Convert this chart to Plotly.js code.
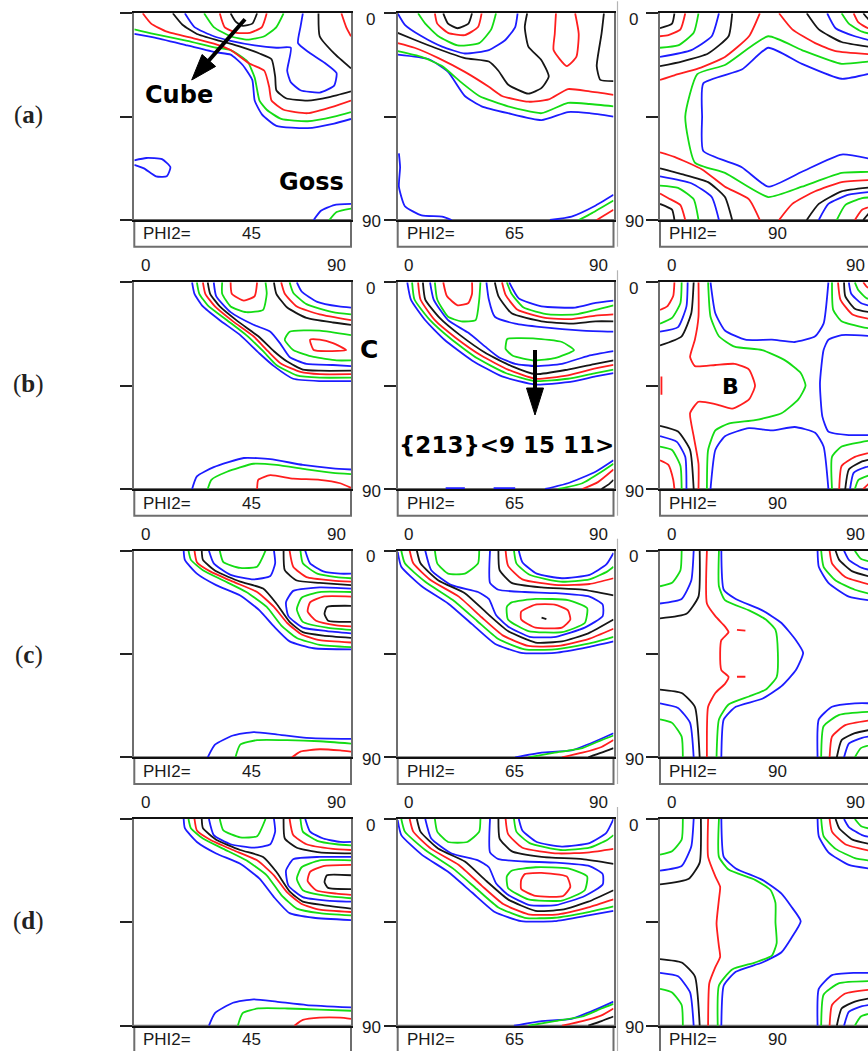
<!DOCTYPE html>
<html><head><meta charset="utf-8">
<script src="https://cdn.plot.ly/plotly-3.0.1.min.js"></script>
<style>html,body{margin:0;padding:0;overflow:hidden;background:#fff}</style>
</head><body><div id="chart"></div>
<script>
// ---------- categories / labels ----------
const ROW_LABELS = ['a', 'b', 'c', 'd'];
const PHI2 = [45, 65, 90];
const EDGE_TICKS = ['0', '90'];

// ---------- contour lines, [phi1, Phi, phi1, Phi, ...] in degrees ----------
// Row (a)
const A45_blue = [
 [0,9, 8,10.5, 22,14, 34,17, 40,18, 45,22.5, 49,29, 50,38, 53,44, 59,49, 72,50, 83,48, 90,46],
 [21,0, 25,6, 33,10, 40,12, 50,14, 59,15, 65,15, 63.5,25, 65,30, 69,33.5, 77,34.5, 83,31.5, 84,26, 79,21.5, 72.5,17, 68,13, 69,6, 70,0],
 [0,64, 5,63, 11.5,63.5, 15,67, 13.5,71, 9,71, 4,67.5, 0,66],
 [74.5,90, 77.5,86, 83,83.5, 90,83]];
const A45_green = [
 [0,7, 8,9, 22,12, 34,15, 40,16, 47,21, 50,28, 52,38, 55,42, 61,46, 72,47, 83,45, 90,43],
 [29,0, 33,6, 40,10, 47,11.5, 54,10, 59,6, 62,0],
 [81,90, 84,86.5, 90,85]];
const A45_red = [
 [3.5,0, 7,4.5, 13.5,8, 25,11, 34,13.5, 40,16, 48,22, 54,25, 56,32, 57,38, 62,42, 72,43.5, 83,40.5, 90,38],
 [35.5,0, 37.5,6, 42.5,8.5, 48,8.5, 53,6, 55,0],
 [86,0, 88,6, 90,10]];
const A45_black = [
 [40,0, 42,3.5, 45,5.5, 49,4.5, 51,0],
 [16,0, 20,5, 26,9, 35.5,12, 44,14.5, 52,17.5, 57,20, 58.5,27.5, 59,33.5, 63,37, 72,38, 81,36.5, 90,34],
 [76.5,0, 77,10, 83,17.5, 90,24]];

const A65_blue = [
 [0,0, 3,5, 10,10, 18.5,14.5, 28,17.5, 38,16, 45,11.5, 49,6, 50,0],
 [0,18, 13,20, 21,25.5, 28,36, 35,40.5, 46,43.5, 60,46.5, 71,43, 80,43.5, 90,45],
 [0.5,61, 1,67, 0.5,75.5, 3,84, 10,88, 18.5,88.5, 22.5,90],
 [63.5,90, 72.5,88.5, 82,84, 90,79]];
const A65_green = [
 [8.5,0, 11.5,4.5, 17,10, 25,14, 34,13, 39,7, 41,0],
 [0,16.5, 10,19, 18.5,23, 27,30.5, 34,36, 46,40.5, 60,43.5, 71,39, 80,39.5, 90,40.5],
 [75.5,90, 81,87, 90,81.5]];
const A65_red = [
 [15.5,0, 16.5,4.5, 21,8.5, 28,9.5, 33.5,6, 35,0],
 [0,13, 7,15, 17,19.5, 28,25.5, 38,32, 43.5,36, 54.5,38.5, 63,37.5, 71,33, 80,34, 90,35.5],
 [66,0, 65.5,9, 65,16, 70.5,23, 74.5,19, 75.5,9, 74,0],
 [83,90, 90,85.5]];
const A65_black = [
 [19,0, 21,4.5, 25,6.5, 29.5,4.5, 31,0],
 [0,8.5, 7,11.5, 15.5,15, 28,19.5, 38,21, 42,25, 46,31, 54.5,35, 60,32.5, 63,27.5, 60,20.5, 54.5,14.5, 53,6, 54,0],
 [86,0, 85,9, 83,23, 84.5,29, 90,29.5]];

const A90_blue = [
 [24.5,0, 21.5,10, 13,16, 0,19],
 [90,25.5, 75.5,28.5, 59,22, 45,15, 34,24.5, 18,30.5, 17.5,45, 18,60, 34,67, 45,75.5, 59,69, 75.5,61.5, 90,64],
 [69.5,0, 73,6.5, 81,10, 90,12.5],
 [0,71, 13,74, 21.5,80, 24.5,90],
 [66,90, 70,83, 78.5,79, 90,77.5]];
const A90_green = [
 [16,0, 14,8.5, 7.5,14, 0,15],
 [90,21, 87,21, 75.5,22, 59,16, 45,10, 27,22.5, 15.5,26.5, 10.5,45, 14.5,65, 27,69.5, 45,80, 59,75.5, 75.5,69.5, 87,69, 90,68.5],
 [75.5,0, 78.5,4.5, 84,8, 90,9.5],
 [0,75, 7.5,76, 14,81, 16,90],
 [73.5,90, 77,83.5, 84,80.5, 90,80]];
const A90_red = [
 [10.5,0, 8.5,7, 3.5,9.5, 0,10],
 [41.5,0, 37,10, 27,19, 16,24, 6,27, 0,29],
 [49.5,0, 55,7, 64.5,13, 73,16.5, 90,18],
 [80.5,0, 82.5,4, 86.5,6.5, 90,7],
 [0,60.5, 6,62.5, 17.5,68, 27,75.5, 37,81, 41.5,90],
 [0,78.5, 3.5,80.5, 8.5,83.5, 10.5,90],
 [49.5,90, 55,83, 64.5,77.5, 75.5,73.5, 90,72.5],
 [81,90, 84,85.5, 90,83.5]];
const A90_black = [
 [6,0, 5,4.5, 0,6.5],
 [30,0, 28.5,10, 20,17.5, 9,21, 0,23],
 [61,0, 66,7, 75.5,12.5, 90,15],
 [84.5,0, 87,3, 90,4.5],
 [0,67.5, 9,70, 20,73.5, 27,80, 30,90],
 [0,83, 5,85.5, 6,90],
 [61,90, 66,83, 75.5,77.5, 90,75.5],
 [84.5,90, 87,87, 90,85.5]];

// Row (b)
const B45_blue = [
 [24,0, 25,5, 28.5,10.5, 35.5,16.5, 44,23, 52,31, 58,36.5, 66,42, 77,43, 90,43],
 [33,0, 34,6, 40,13, 49.5,18.5, 56.5,21.5, 60.5,26.5, 64.5,32.5, 71.5,35.5, 82.5,36, 90,36.5],
 [67.5,0, 69.5,4, 76,8.5, 85,10.5, 90,11],
 [24,90, 26,84.5, 33,80.5, 45.5,76.5, 56.5,77, 70,79.5, 82.5,81, 90,81.5]];
const B45_green = [
 [26,0, 27,5, 30.5,10, 38.5,16.5, 46.5,23, 53.5,30, 59,36, 67.5,40.5, 77,41.5, 90,41.5],
 [36.5,0, 36.5,5, 40,10.5, 46.5,13, 53.5,12, 55,5, 54.5,0],
 [64.5,0, 66,4.5, 71.5,9.5, 82.5,13, 90,14],
 [90,23, 77,21, 64.5,21.5, 62.5,25, 66,29.5, 74.5,32.5, 84,34, 90,34],
 [30.5,90, 32,86, 38.5,82.5, 49.5,79, 59,79.5, 71.5,81.5, 82.5,83, 90,83.5]];
const B45_red = [
 [28.5,0, 29.5,5, 33.5,10.5, 41,17, 49.5,23.5, 55.5,30, 61,35.5, 69,39, 77,40, 90,40],
 [40,0, 40.5,5, 45.5,8, 50,6, 51,0],
 [61,0, 62.5,5, 67.5,10.5, 77,14, 90,16.5],
 [73,25, 74.5,29.5, 80,30, 88,29.5, 82.5,26.5, 77,25, 73,25],
 [51,90, 51.5,86, 56.5,84, 66,85.5, 77,86, 85.5,87.5, 90,89.5]];
const B45_black = [
 [30.5,0, 31.5,5, 35.5,10.5, 43,17, 51.5,23.5, 58,30, 63.5,34.5, 70,38, 77,38.5, 90,38.5],
 [58,0, 59,5, 63.5,11, 71.5,15.5, 82.5,17.5, 90,18.5]];

const B65_blue = [
 [4,0, 5.5,7.5, 11.5,16.5, 19.5,25, 31,34, 43.5,41, 57.5,44.5, 71,43.5, 82.5,41, 90,39.5],
 [13.5,0, 15,7.5, 21,16.5, 29.5,22, 36.5,28, 42,32.5, 49,35.5, 57.5,36.5, 68.5,35.5, 79.5,32, 90,30],
 [37,0, 38,7.5, 40.5,15, 49,18, 60,19.5, 77,21, 90,21.5],
 [46.5,0, 50.5,7, 60,10.5, 74,11, 82.5,9, 90,8],
 [20,89.6, 28,89.6], [40,89.6, 49,89.6],
 [61.5,90, 71,87.5, 82.5,82.5, 90,77.5]];
const B65_green = [
 [6,0, 7,7.5, 13.5,16.5, 22,24.5, 33,33, 45,39.5, 57.5,43, 71,42, 82.5,39.5, 90,38],
 [15.5,0, 16.5,7.5, 21,15, 26.5,17, 32.5,16.5, 34,7.5, 34.5,0],
 [45.5,0, 47.5,5, 52.5,11, 63,14, 74,14, 82.5,12, 90,10],
 [45.5,25, 45,29, 48,32, 57,34, 65.5,33, 73.5,29.5, 68.5,26, 57.5,24.5, 46,24.5, 45.5,25],
 [67,90, 77,87.5, 85,82.5, 90,79]];
const B65_red = [
 [8.5,0, 9.5,7.5, 15.5,16.5, 24,24, 35,32, 46,38, 57.5,42, 71,40.5, 82.5,37.5, 90,36],
 [19,0, 20.5,6, 25,10, 29.5,9, 31,5, 31,0],
 [43.5,0, 45,5.5, 50,12, 61.5,15.5, 72.5,16, 82.5,14.5, 90,14],
 [77,90, 83.5,87, 90,81.5]];
const B65_black = [
 [10.5,0, 11.5,7.5, 17.5,15.5, 26,23, 37,31, 47.5,36.5, 57.5,40, 71,38, 82.5,35.5, 90,34],
 [40.5,0, 42,6, 47.5,13.5, 60,17, 72.5,18, 82.5,17, 90,17],
 [85,90, 88,88, 90,86]];

const B90_blue = [
 [11.5,0, 11,10.5, 7.5,19.5, 0,21.5],
 [21,0, 23,13.5, 27,21, 35.5,25, 46.5,25, 56,26, 64.5,23.5, 68,18, 70,0],
 [21,90, 23,73, 27,67, 37,63.5, 46.5,64.5, 56,63, 64.5,65.5, 68,71.5, 70,90],
 [90,23.5, 75.5,23, 70,25, 68,29.5, 66.5,44, 67.5,58.5, 70,65, 78.5,66.5, 90,66.5],
 [78.5,0, 79.5,5, 83.5,9, 90,11],
 [0,67, 7,69.5, 10.5,76, 11,90],
 [79,90, 80.5,83, 85.5,80.5, 90,79.5]];
const B90_green = [
 [9,0, 8.5,9, 5,15.5, 0,18],
 [20,0, 21,15, 24.5,23.5, 31,28, 42.5,29.5, 52,34, 58.5,39.5, 60.5,45, 57.5,51, 50.5,57, 39.5,60, 28.5,61.5, 23,64.5, 20,73, 19.5,90],
 [71.5,0, 72,12, 75.5,17, 84,19.5, 90,20.5],
 [81,0, 82.5,3.5, 86,7, 90,7.5],
 [0,71.5, 5,73, 8.5,80, 9,90],
 [71.5,90, 71.5,76, 75.5,71.5, 84,69.5, 90,68.5],
 [81,90, 82.5,86, 87,84, 90,83]];
const B90_red = [
 [6,0, 5.5,6, 3,10.5, 0,12],
 [16,0, 16,15, 14.5,25, 12.5,32.5, 14.5,36.5, 23,36, 31,35.5, 37,38, 39.5,45, 37,51, 30,55, 23,53, 16,52, 12.5,57, 14,67, 16,79, 16,90],
 [0.6,41, 0.6,49],
 [74,0, 75,7.5, 80,14, 90,16.5],
 [84.5,0, 86,2, 90,4],
 [0,77.5, 3.5,79.5, 5.5,86, 6,90],
 [74.5,90, 75.5,80, 81,76, 90,73.5],
 [84.5,90, 87,87.5, 90,86]];
const B90_black = [
 [14,0, 13,13.5, 9,23.5, 0,27.5],
 [76.5,0, 77,6, 81,11.5, 90,13.5],
 [0,62.5, 7.5,65, 12.5,73, 14,90],
 [77,90, 78.5,81.5, 84,78, 90,76.5]];

// Row (c)
const C45_blue = [
 [20.5,0, 21,4, 26,10, 34,15, 44,19.5, 52,26, 58,33, 64.5,39.5, 74.5,42.5, 90,43],
 [31,0, 33,5.5, 40,10.5, 49.5,12.5, 56.5,11, 58.5,5.5, 58,0],
 [71,0, 73,5.5, 78.5,9, 85.5,10, 90,10],
 [90,16.5, 77,16, 66,17.5, 63,22.5, 64,28.5, 70,33.5, 80,35, 90,36],
 [30.5,90, 33.5,84.5, 41,80.5, 49.5,79, 59,80, 71.5,81.5, 90,82]];
const C45_green = [
 [22.5,0, 23.5,4, 28.5,8.5, 37,13, 46.5,18, 55,24.5, 61,32.5, 67.5,38, 77,41, 90,42],
 [35.5,0, 37,5, 44,7.5, 51,7, 54.5,0],
 [69,0, 70,5.5, 76,10, 84,11.5, 90,12],
 [90,18, 77,18, 69.5,20.5, 67.5,25.5, 70,31, 80,33.5, 90,34.5],
 [42,90, 44,84.5, 51,82.5, 63.5,82.5, 77,83, 90,84]];
const C45_red = [
 [25,0, 26,5, 31.5,9, 41,13.5, 51,18, 58,24.5, 63.5,31.5, 69.5,36.5, 77,39, 90,40],
 [64.5,0, 66,7, 71.5,11.5, 82.5,13, 90,13.5],
 [90,20, 78.5,20, 73,22.5, 72,26.5, 75.5,30.5, 84,32.5, 90,33],
 [65.5,90, 69,87.5, 77,86.5, 85.5,87, 90,87.5]];
const C45_black = [
 [28,0, 28.5,4, 34,9, 44,13.5, 53.5,16.5, 59,23, 64.5,31, 70,35.5, 78.5,37, 90,38],
 [62,0, 62.5,8.5, 67.5,13, 77,14, 90,15],
 [90,24, 80,24.5, 79,27.5, 80.5,30.5, 90,31]];

const C65_blue = [
 [0,0.5, 1.5,7, 10,15.5, 21,23, 31,32, 40.5,40.5, 51.5,44.5, 65.5,44.5, 79.5,42, 90,39.5],
 [11.5,0, 14,8.5, 22.5,15, 33.5,18, 38,21, 41,28, 46,33, 55,37.5, 66,37.5, 78,33.5, 85.5,28.5, 85.5,23.5, 80,20, 66,18.5, 53,18, 42,17, 38.5,14, 38.5,0],
 [50.5,0, 52,5, 58,10, 68.5,12, 80,10.5, 87,6, 90,1],
 [49,90, 60,88, 72.5,87, 82.5,83, 90,79.5]];
const C65_green = [
 [1.5,0, 3,5.5, 11.5,13.5, 23,21.5, 33,30.5, 42,38.5, 53,43, 65.5,43, 79.5,40.5, 90,37.5],
 [15.5,0, 16.5,5.5, 21,10, 28,10, 33.5,5.5, 34,0],
 [48.5,0, 49.5,5.5, 55,10.5, 68,13.5, 80,12.5, 87.5,9, 90,7],
 [45.5,24.5, 46,30, 54.5,35, 68.5,35.5, 78,31.5, 79,25, 71,21.5, 57.5,21, 47.5,22.5, 45.5,24.5],
 [54.5,90, 65.5,88, 77,86, 85,82.5, 90,80.5]];
const C65_red = [
 [5,0, 6.5,5.5, 14,13, 25.5,20, 35,29, 44,37, 54.5,41.5, 67,41.5, 79.5,38.5, 90,34],
 [45,0, 46,6.5, 52,12.5, 67,15, 80,14.5, 90,12],
 [51.5,26.5, 51.5,30, 57.5,33.5, 68.5,33.5, 72,30, 71,26, 65.5,23.5, 57.5,23.5, 51.5,26.5],
 [68.5,90, 77,88, 85,85.5, 90,82.5]];
const C65_black = [
 [8,0, 9.5,5.5, 17,13, 28,18.5, 37,27, 46,35, 57.5,40, 68.5,39.5, 79.5,36, 90,30],
 [42,0, 42.5,8.5, 47.5,14, 60,16, 77,17, 90,19.5],
 [60,29.2, 62,29.8],
 [79.5,90, 85,88, 90,86]];

const C90_blue = [
 [14,0, 13,13, 9,21, 0,23],
 [25.5,0, 26.5,17, 31.5,21, 42.5,26, 50.5,31.5, 56.5,39, 59.5,44.5, 56.5,52, 50.5,59, 42.5,64.5, 31.5,68, 26.5,73.5, 25.5,90],
 [0,66.5, 7.5,68.5, 12.5,75, 14,90],
 [65.5,0, 66,7, 70,14, 78.5,20, 90,22],
 [76.5,0, 78.5,4, 84,7.5, 90,9],
 [65.5,90, 66,73.5, 71.5,68, 81,66.5, 90,66.5],
 [76.5,90, 78.5,84, 84,81.5, 90,80.5]];
const C90_green = [
 [9,0, 8.5,8.5, 5,14, 0,15.5],
 [24.5,0, 24.5,15.5, 27,21.5, 37,26, 44,30, 48,34.5, 49,44.5, 48.5,55, 44,60.5, 37,63.5, 28.5,67, 24.5,73.5, 23.5,90],
 [0,73.5, 5,75, 9,81, 9.5,90],
 [67,0, 68,7, 73,13, 81,17, 90,19.5],
 [81,0, 83.5,3.5, 90,5.5],
 [67,90, 68,76.5, 74.5,71.5, 90,70],
 [81,90, 83.5,86, 90,84]];
const C90_red = [
 [19.5,0, 19.5,23, 23,28.5, 27,33, 28.5,35.5, 25.5,39, 25,44.5, 25.5,52, 28.5,55, 27,58, 23,62, 20,68, 19.5,90],
 [32,34.5, 35.5,34.8],
 [32,54.9, 35.5,54.9],
 [70.5,0, 71.5,5.5, 77,11.5, 90,15.5],
 [70.5,90, 71.5,81, 77,76, 90,73.5]];
const C90_black = [
 [16.5,0, 16,20, 11,27.5, 0,29.5],
 [0,60.5, 9,62, 14.5,68, 16.5,90],
 [73,0, 74.5,4, 80,9, 90,12],
 [73.5,90, 75.5,82.5, 81,79.5, 90,77.5]];

// Row (d)
const D45_blue = [
 [20.5,0, 21,4, 26,10, 34,15, 44,19.5, 52,26, 58,34, 64.5,41, 74.5,43, 90,44],
 [31,0, 33,7, 40,11, 49.5,12.5, 56.5,11, 58.5,5.5, 58,0],
 [71,0, 73,5.5, 78.5,8.5, 85.5,10, 90,10],
 [90,16.5, 77,16.5, 66,17.5, 63,22.5, 64,29, 70,34, 80,35.5, 90,36],
 [31,90, 33.5,84.5, 41,80, 49.5,78.5, 59,79.5, 71.5,81, 90,82]];
const D45_green = [
 [22.5,0, 23.5,4, 28.5,8.5, 37,13, 46.5,18, 55,24.5, 61,33, 67.5,39, 77,41, 90,42],
 [35.5,0, 37,5, 44,8, 51,7.5, 54.5,0],
 [69,0, 70,5.5, 76,9.5, 84,11, 90,11.5],
 [90,18, 77,18, 69.5,21, 67.5,26, 70,31, 80,33.5, 90,34.5],
 [43,90, 45,84.5, 51.5,82.5, 63.5,82.5, 77,83, 90,83.5]];
const D45_red = [
 [25,0, 26,5, 31.5,9, 41,13.5, 51,18, 58,24.5, 63.5,32, 69.5,37, 77,39.5, 90,40.5],
 [64.5,0, 66,7, 71.5,11, 82.5,13, 90,13.5],
 [90,20, 78.5,20.5, 73,23, 72,27, 75.5,31, 84,32.5, 90,33],
 [66.5,90, 70,87.5, 77,86.5, 85.5,86.5, 90,87]];
const D45_black = [
 [28,0, 28.5,4, 34,9, 44,13.5, 53.5,16.5, 59,23, 64.5,31.5, 70,36, 78.5,37.5, 90,39],
 [62,0, 62.5,8.5, 67.5,12.5, 77,14.5, 90,15],
 [90,24.5, 80,24.5, 79,27.5, 80.5,30, 90,30.5]];

const D65_blue = [
 [0,0.5, 1.5,7, 10,15.5, 21,23, 31,32, 40.5,40.5, 51.5,44.5, 65.5,44.5, 79.5,42, 90,40],
 [11.5,0, 14,8.5, 22.5,15, 33.5,18, 38,21, 41,28, 46,33, 55,37.5, 66,37.5, 78,33.5, 85.5,28.5, 85.5,24, 80,20.5, 66,19, 53,18.5, 42,17.5, 38.5,14.5, 38.5,0],
 [50.5,0, 52,5, 58,10, 68.5,12, 80,10.5, 87,6, 90,0],
 [48.5,90, 60,88, 72.5,87, 82.5,83, 90,79.5]];
const D65_green = [
 [1.5,0, 3,5.5, 11.5,13.5, 23,21.5, 33,30.5, 42,38.5, 53,43, 65.5,43, 79.5,40.5, 90,38],
 [15.5,0, 16.5,5.5, 21,10, 29,10, 34,5.5, 34.5,0],
 [48.5,0, 49.5,5.5, 55,10.5, 68,13.5, 80,12.5, 87.5,9, 90,7],
 [45.5,25, 46,30, 54.5,35, 68.5,35.5, 78,31, 79,25, 71,21.5, 57.5,21, 47.5,22.5, 45.5,25],
 [54.5,90, 65.5,88, 77,86, 85,82.5, 90,80.5]];
const D65_red = [
 [5,0, 6.5,5.5, 14,13, 25.5,20, 35,29, 44,37, 54.5,41.5, 67,41.5, 79.5,38.5, 90,35],
 [45,0, 46,6.5, 52,12.5, 67,15, 80,14.5, 90,13],
 [51.5,26.5, 51.5,30.5, 57.5,33.5, 69,33.5, 72,29.5, 70.5,25, 60,23.5, 53,24, 51.5,26.5],
 [68.5,90, 77,88, 85,85.5, 90,82.5]];
const D65_black = [
 [8,0, 9.5,5.5, 17,13, 28,18.5, 37,27, 46,35, 57.5,40, 68.5,39.5, 79.5,36, 90,31],
 [42,0, 42.5,8.5, 47.5,14, 60,16.5, 77,17.5, 90,19.5],
 [79.5,90, 85,88, 90,86]];

const D90_blue = [
 [14,0, 13,12, 9,20.5, 0,22.5],
 [25.5,0, 26.5,16.5, 31.5,21.5, 42.5,26.5, 50.5,32.5, 54.5,38, 58.5,44.5, 54.5,52, 50.5,58, 42.5,62.5, 31.5,66.5, 26.5,72.5, 25.5,90],
 [0,67, 7.5,68.5, 12.5,75.5, 14,90],
 [65.5,0, 66,7.5, 70,14.5, 78.5,20, 90,22],
 [76.5,0, 78.5,3.5, 84,7, 90,8.5],
 [65.5,90, 66,74, 71.5,68, 81,67, 90,67],
 [76.5,90, 78.5,84, 84,81.5, 90,80.5]];
const D90_green = [
 [9.5,0, 9,9, 5,14, 0,15.5],
 [24.5,0, 24.5,16.5, 28.5,22, 39.5,26.5, 46,31, 48,36.5, 48,45, 48.5,54, 46.5,59.5, 39.5,62.5, 30,65.5, 24.5,72.5, 24,90],
 [0,74, 5,75.5, 9,81, 9.5,90],
 [67,0, 68,7.5, 73,13, 81,17, 90,18.5],
 [81,0, 83.5,3, 90,5],
 [67,90, 68,76.5, 74.5,71.5, 90,70.5],
 [81,90, 83.5,86, 90,84]];
const D90_red = [
 [20,0, 20,16.5, 23,25, 25,29.5, 24.5,35, 23.5,45.5, 24.5,55.5, 25,60, 23,64.5, 20.5,71.5, 20,90],
 [70.5,0, 71.5,5.5, 77,11, 90,14.5],
 [70.5,90, 71.5,81, 77,76, 90,74]];
const D90_black = [
 [17,0, 16.5,19, 12,26, 0,28.5],
 [0,61, 9,62.5, 14.5,68.5, 16.5,90],
 [73,0, 74.5,4, 80,9, 90,11.5],
 [73.5,90, 75.5,82.5, 81,79.5, 90,77.5]];

// table of panels built from the arrays above
const panels = [
 [{blue:A45_blue, green:A45_green, red:A45_red, black:A45_black},
  {blue:A65_blue, green:A65_green, red:A65_red, black:A65_black},
  {blue:A90_blue, green:A90_green, red:A90_red, black:A90_black}],
 [{blue:B45_blue, green:B45_green, red:B45_red, black:B45_black},
  {blue:B65_blue, green:B65_green, red:B65_red, black:B65_black},
  {blue:B90_blue, green:B90_green, red:B90_red, black:B90_black}],
 [{blue:C45_blue, green:C45_green, red:C45_red, black:C45_black},
  {blue:C65_blue, green:C65_green, red:C65_red, black:C65_black},
  {blue:C90_blue, green:C90_green, red:C90_red, black:C90_black}],
 [{blue:D45_blue, green:D45_green, red:D45_red, black:D45_black},
  {blue:D65_blue, green:D65_green, red:D65_red, black:D65_black},
  {blue:D90_blue, green:D90_green, red:D90_red, black:D90_black}]
];

// ---------- layout geometry (pixels) ----------
const W = 880, H = 1051, VIEW_W = 868;
const colL = [134.3, 397.7, 660], colR = [351, 613.5, 876.5];
const rowT = [13.3, 282.3, 550.7, 819], rowB = [220, 489, 757.3, 1025.7];
const STRIP = 26.7;
const COLORS = {blue:'#1c1cff', green:'#14dc14', red:'#ff1e1e', black:'#161616'};
const px = x => x / W, py = y => 1 - y / H;
const SANS = 'Liberation Sans, Arial, sans-serif';
const BOLD = 'DejaVu Sans, Verdana, sans-serif';

const traces = [];
const layout = {width: W, height: H, margin: {l:0, r:0, t:0, b:0},
  paper_bgcolor: '#fff', plot_bgcolor: '#fff', showlegend: false,
  shapes: [], annotations: []};

function txt(text, x, y, size, opts) {
  return Object.assign({text, x: px(x), y: py(y), xref: 'paper', yref: 'paper',
    showarrow: false, xanchor: 'center', yanchor: 'middle',
    font: {family: SANS, size, color: '#1a1a1a'}}, opts || {});
}

panels.forEach((row, r) => row.forEach((p, c) => {
  const k = r * 3 + c + 1, s = k === 1 ? '' : String(k);
  layout['xaxis' + s] = {domain: [px(colL[c]), px(colR[c])], range: [0, 90], anchor: 'y' + s,
    showgrid: false, zeroline: false, showticklabels: false, ticks: '',
    showline: true, mirror: true, linecolor: '#111', linewidth: 2, fixedrange: true};
  layout['yaxis' + s] = {domain: [py(rowB[r]), py(rowT[r])], range: [90, 0], anchor: 'x' + s,
    showgrid: false, zeroline: false, tickvals: [0, 45, 90], ticks: 'outside', ticklen: 12,
    tickwidth: 2, tickcolor: '#222', showticklabels: false,
    showline: true, mirror: true, linecolor: '#6e6e6e', linewidth: 2, fixedrange: true};
  ['blue', 'green', 'red', 'black'].forEach(col => p[col].forEach(seg => {
    traces.push({type: 'scatter', mode: 'lines', xaxis: 'x' + s, yaxis: 'y' + s,
      x: seg.filter((_, i) => i % 2 === 0), y: seg.filter((_, i) => i % 2 === 1),
      line: {color: COLORS[col], width: 1.8, shape: 'spline', smoothing: 0.5},
      hoverinfo: 'skip'});
  }));
  // strip under the section
  layout.shapes.push({type: 'rect', xref: 'paper', yref: 'paper', layer: 'below',
    x0: px(colL[c]), x1: px(colR[c]), y0: py(rowB[r] + STRIP), y1: py(rowB[r]),
    line: {color: '#6e6e6e', width: 2}});
  layout.annotations.push(txt('PHI2=', colL[c] + 7, rowB[r] + 14, 17, {xanchor: 'left'}));
  layout.annotations.push(txt(String(PHI2[c]), colL[c] + 117, rowB[r] + 14, 17));
  // axis end labels
  if (r > 0) {
    layout.annotations.push(txt(EDGE_TICKS[0], colL[c] + 4.5, rowT[r] - 16.5, 17, {xanchor: 'left'}));
    layout.annotations.push(txt(EDGE_TICKS[1], Math.min(colR[c] - 3.5, VIEW_W - 1), rowT[r] - 16.5, 17, {xanchor: 'right'}));
  }
  if (c > 0) {
    layout.annotations.push(txt(EDGE_TICKS[0], colL[c] - 27, rowT[r] + 6, 17));
    layout.annotations.push(txt(EDGE_TICKS[1], colL[c] - 26, rowB[r] + 2, 17));
  }
  // faint border of the third-column image, per row
  if (c === 2) {
    layout.shapes.push({type: 'line', xref: 'paper', yref: 'paper', layer: 'below',
      x0: px(617.5), x1: px(617.5), y0: py(rowT[r] - 12), y1: py(rowB[r] + STRIP),
      line: {color: '#b4b4b4', width: 1.2}});
  }
}));

// row labels
const rowLabelY = [115, 384, 655, 921];
ROW_LABELS.forEach((l, r) => layout.annotations.push(
  txt('(<b>' + l + '</b>)', 29, rowLabelY[r], 25, {font: {family: 'Liberation Serif, Times New Roman, serif', size: 25, color: '#222'}})));

// component labels
const bold = (t, x, y, size) => txt('<b>' + t + '</b>', x, y, size, {font: {family: BOLD, size, color: '#000'}});
layout.annotations.push(bold('Cube', 179, 95, 24));
layout.annotations.push(bold('Goss', 311.5, 181.5, 24));
layout.annotations.push(bold('C', 369, 349, 25));
layout.annotations.push(bold('{213}&lt;9 15 11&gt;', 506.5, 445, 23));
layout.annotations.push(bold('B', 730, 386, 22));

// arrows (shaft + filled head)
function arrow(tx, ty, hx, hy, headLen, halfW, width) {
  const dx = hx - tx, dy = hy - ty, L = Math.hypot(dx, dy), ux = dx / L, uy = dy / L;
  const bx = hx - ux * headLen, by = hy - uy * headLen, nx = -uy, ny = ux;
  layout.shapes.push({type: 'line', xref: 'paper', yref: 'paper',
    x0: px(tx), y0: py(ty), x1: px(bx + ux * 2), y1: py(by + uy * 2), line: {color: '#000', width}});
  layout.shapes.push({type: 'path', xref: 'paper', yref: 'paper', fillcolor: '#000', line: {color: '#000', width: 1},
    path: `M ${px(hx)} ${py(hy)} L ${px(bx + nx * halfW)} ${py(by + ny * halfW)} L ${px(bx - nx * halfW)} ${py(by - ny * halfW)} Z`});
}
arrow(245, 19.3, 191.7, 80, 26, 9, 4);
arrow(535, 350, 535, 415, 27, 8.5, 4);

Plotly.newPlot('chart', traces, layout, {staticPlot: true, displayModeBar: false});
</script>
</body></html>
